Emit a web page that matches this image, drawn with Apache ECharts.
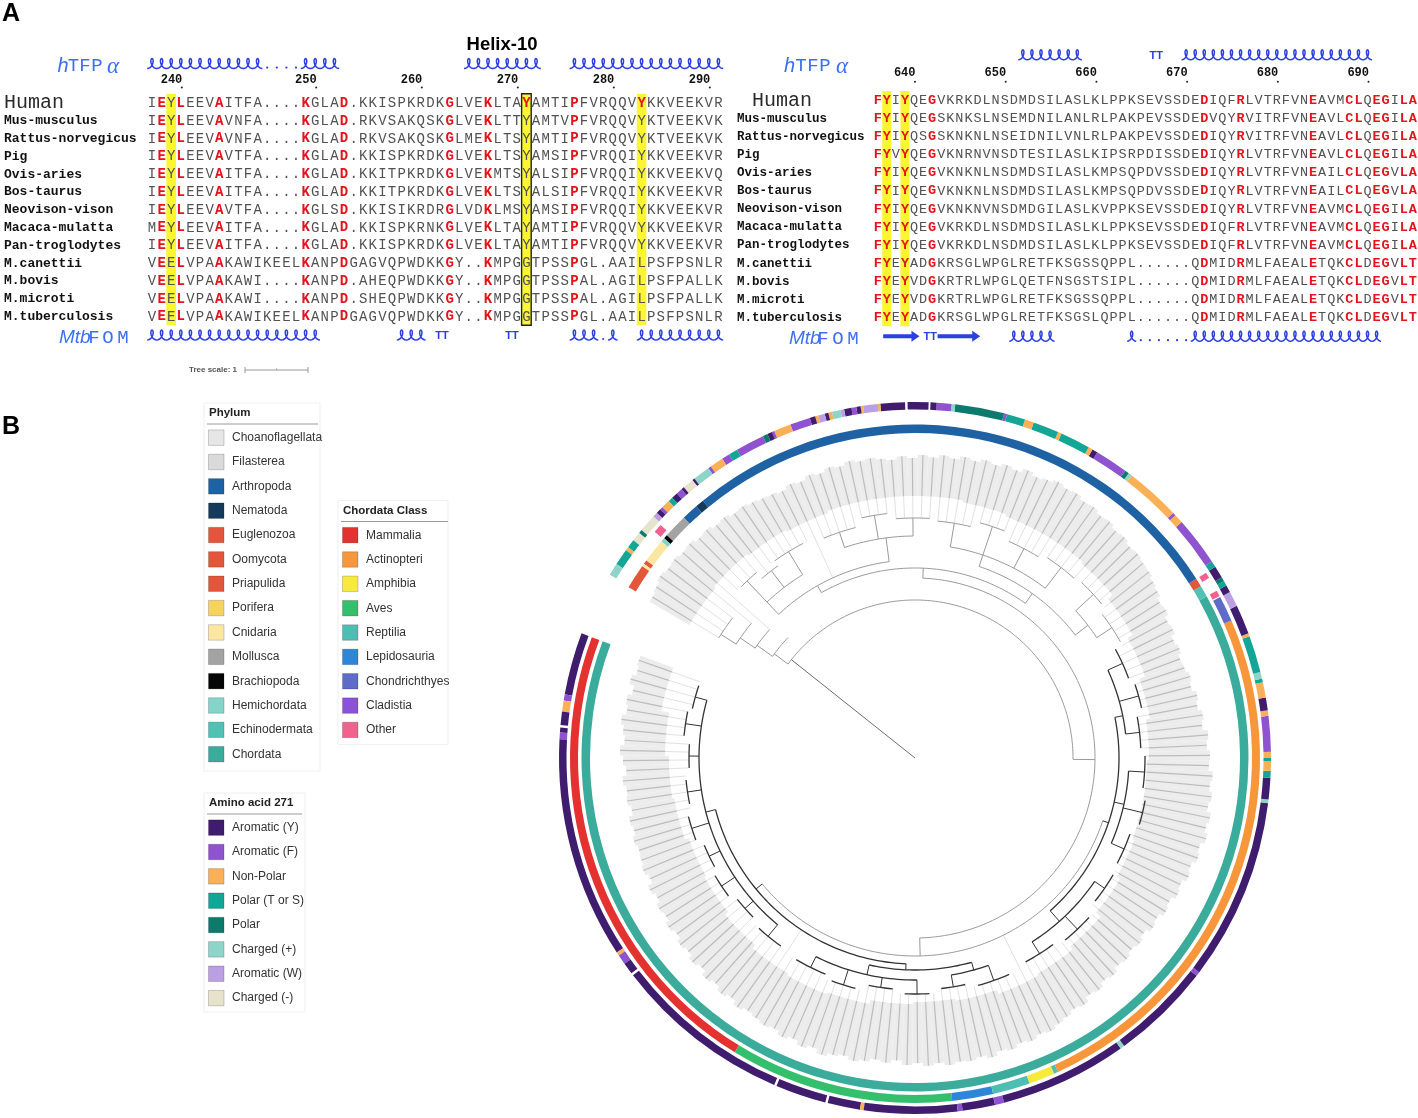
<!DOCTYPE html>
<html>

<head>
  <meta charset="utf-8" />
  <title></title>
  <script src="https://cdn.jsdelivr.net/npm/echarts@6/dist/echarts.min.js"></script>
  <style>
    html, body { margin: 0; padding: 0; background: #fff; }
    #main { width: 1418px; height: 1118px; }
  </style>
</head>

<body>
  <div id="main"></div>
  <script type="text/javascript">
    // ---------- panel A : alignment ----------
    var species = ['Human', 'Mus-musculus', 'Rattus-norvegicus', 'Pig', 'Ovis-aries', 'Bos-taurus',
      'Neovison-vison', 'Macaca-mulatta', 'Pan-troglodytes', 'M.canettii', 'M.bovis', 'M.microti', 'M.tuberculosis'];

    var seqLeft = [
      'IEYLEEVAITFA....KGLAD.KKISPKRDKGLVEKLTAYAMTIPFVRQQVYKKVEEKVR',
      'IEYLEEVAVNFA....KGLAD.RKVSAKQSKGLVEKLTTYAMTVPFVRQQVYKTVEEKVK',
      'IEYLEEVAVNFA....KGLAD.RKVSAKQSKGLMEKLTSYAMTIPFVRQQVYKTVEEKVK',
      'IEYLEEVAVTFA....KGLAD.KKISPKRDKGLVEKLTSYAMSIPFVRQQIYKKVEEKVR',
      'IEYLEEVAITFA....KGLAD.KKITPKRDKGLVEKMTSYALSIPFVRQQIYKKVEEKVQ',
      'IEYLEEVAITFA....KGLAD.KKITPKRDKGLVEKLTSYALSIPFVRQQIYKKVEEKVR',
      'IEYLEEVAVTFA....KGLSD.KKISIKRDRGLVDKLMSYAMSIPFVRQQIYKKVEEKVR',
      'MEYLEEVAITFA....KGLAD.KKISPKRNKGLVEKLTAYAMTIPFVRQQVYKKVEEKVR',
      'IEYLEEVAITFA....KGLAD.KKISPKRDKGLVEKLTAYAMTIPFVRQQVYKKVEEKVR',
      'VEELVPAAKAWIKEELKANPDGAGVQPWDKKGY..KMPGGTPSSPGL.AAILPSFPSNLR',
      'VEELVPAAKAWI....KANPD.AHEQPWDKKGY..KMPGGTPSSPAL.AGILPSFPALLK',
      'VEELVPAAKAWI....KANPD.SHEQPWDKKGY..KMPGGTPSSPAL.AGILPSFPALLK',
      'VEELVPAAKAWIKEELKANPDGAGVQPWDKKGY..KMPGGTPSSPGL.AAILPSFPSNLR'
    ];
    var seqRight = [
      'FYIYQEGVKRKDLNSDMDSILASLKLPPKSEVSSDEDIQFRLVTRFVNEAVMCLQEGILA',
      'FYIYQEGSKNKSLNSEMDNILANLRLPAKPEVSSDEDVQYRVITRFVNEAVLCLQEGILA',
      'FYIYQSGSKNKNLNSEIDNILVNLRLPAKPEVSSDEDIQYRVITRFVNEAVLCLQEGILA',
      'FYVYQEGVKNRNVNSDTESILASLKIPSRPDISSDEDIQYRLVTRFVNEAVLCLQEGILA',
      'FYIYQEGVKNKNLNSDMDSILASLKMPSQPDVSSDEDIQYRLVTRFVNEAILCLQEGVLA',
      'FYIYQEGVKNKNLNSDMDSILASLKMPSQPDVSSDEDIQYRLVTRFVNEAILCLQEGVLA',
      'FYIYQEGVKNKNVNSDMDGILASLKVPPKSEVSSDEDIQYRLVTRFVNEAVMCLQEGILA',
      'FYIYQEGVKRKDLNSDMDSILASLKLPPKSEVSSDEDIQFRLVTRFVNEAVMCLQEGILA',
      'FYIYQEGVKRKDLNSDMDSILASLKLPPKSEVSSDEDIQFRLVTRFVNEAVMCLQEGILA',
      'FYEYADGKRSGLWPGLRETFKSGSSQPPL......QDMIDRMLFAEALETQKCLDEGVLT',
      'FYEYVDGKRTRLWPGLQETFNSGSTSIPL......QDMIDRMLFAEALETQKCLDEGVLT',
      'FYEYVDGKRTRLWPGLRETFKSGSSQPPL......QDMIDRMLFAEALETQKCLDEGVLT',
      'FYEYADGKRSGLWPGLRETFKSGSLQPPL......QDMIDRMLFAEALETQKCLDEGVLT'
    ];

    var redColsLeft = [1, 3, 7, 16, 20, 31, 35, 44];
    var redHumanColsLeft = [39, 51];
    var yellowColsLeft = [2, 39, 51];
    var boxedColsLeft = [39];
    var tickColsLeft = [3, 17, 28, 38, 48, 58];
    var tickLabelsLeft = ['240', '250', '260', '270', '280', '290'];

    var redColsRight = [0, 1, 3, 6, 36, 40, 48, 52, 53, 55, 56, 58, 59];
    var redHumanColsRight = [];
    var yellowColsRight = [1, 3];
    var boxedColsRight = [];
    var tickColsRight = [4, 14, 24, 34, 44, 54];
    var tickLabelsRight = ['640', '650', '660', '670', '680', '690'];

    // secondary structure, in alignment columns
    var ssLeftTop = { helix: [[0, 11], [16, 19], [33, 40], [44, 59]], dots: [12, 13, 14, 15] };
    var ssLeftBottom = { helix: [[0, 17], [26, 28], [44, 46], [48, 48], [51, 59]], dots: [47], turns: [30.2, 37.5] };
    var ssRightTop = { helix: [[16, 22], [34, 54]], turns: [30.7] };
    var ssRightBottom = { helix: [[15, 19], [28, 28], [35, 55]], dots: [29, 30, 31, 32, 33, 34], turns: [5.8], strands: [[0.6, 4.6], [6.6, 11.3]] };

    // ---------- panel B : tree ----------
    var phylumNames = ['Choanoflagellata', 'Filasterea', 'Arthropoda', 'Nematoda', 'Euglenozoa', 'Oomycota', 'Priapulida',
      'Porifera', 'Cnidaria', 'Mollusca', 'Brachiopoda', 'Hemichordata', 'Echinodermata', 'Chordata'];
    var phylumColors = ['#e6e6e6', '#dadada', '#1f62a3', '#163a5c', '#e4563b', '#e4563b', '#e4563b',
      '#f6d35c', '#fbe6a2', '#a3a3a3', '#050505', '#84d4ca', '#4fc2b3', '#3bab9c'];
    var classNames = ['Mammalia', 'Actinopteri', 'Amphibia', 'Aves', 'Reptilia', 'Lepidosauria', 'Chondrichthyes', 'Cladistia', 'Other'];
    var classColors = ['#e3322f', '#f7963a', '#f8ea3c', '#33bf6b', '#4cbfb2', '#2e86d9', '#5e6bc9', '#8b52d9', '#f1628f'];
    var aaNames = ['Aromatic (Y)', 'Aromatic (F)', 'Non-Polar', 'Polar (T or S)', 'Polar', 'Charged (+)', 'Aromatic (W)', 'Charged (-)'];
    var aaColors = ['#3f1c6d', '#8f53cf', '#f9b057', '#13a596', '#0c7a6c', '#8fd4c9', '#baa0e2', '#e7e2cb'];

    // ring segments: [start angle, end angle, category index] (angle in degrees along the tree)
    var phylumRing = [[0, 229.5, 13], [229.5, 231.5, 12], [231.5, 233, 4], [233, 330, 2], [330, 331.5, 3], [331.5, 334.4, 2],
      [334.4, 338.6, 9], [338.6, 339.3, 10], [339.3, 340, 11], [340, 344.2, 8], [344.2, 344.9, 6], [344.9, 345.4, 8], [345.4, 349.7, 4]];
    var classRing = [[0, 79, 0], [79, 116.7, 3], [116.7, 123.6, 5], [123.6, 129.9, 4], [129.9, 134.3, 2], [134.3, 135, 4],
      [135, 224, 1], [224, 228.3, 6], [228.5, 229.5, 8], [232, 233, 8], [338, 339.5, 8]];
    var aaRing = [[0, 10.2, 0], [10.2, 11.2, 1], [11.2, 13, 2], [13, 15.2, 0], [15.6, 16.4, 0], [16.4, 17.5, 1], [17.5, 53.6, 0],
      [53.6, 54.2, 2], [54.2, 55.8, 1], [55.8, 57.7, 0], [58.1, 87.2, 0], [87.6, 95.9, 0], [96.3, 101.6, 0], [101.6, 102.2, 2],
      [102.2, 117.4, 0], [117.4, 118.2, 1], [118.2, 123.5, 0], [123.5, 125, 1], [125, 145.8, 0], [145.8, 146.5, 5],
      [146.5, 162.8, 0], [162.8, 163.5, 1], [163.5, 193.2, 0], [193.2, 193.8, 5], [193.8, 197.3, 0], [197.3, 198.4, 3],
      [198.4, 200, 2], [200, 200.5, 3], [200.5, 201.5, 2], [201.5, 207.3, 1], [207.3, 208.2, 2], [208.2, 210.3, 0],
      [210.3, 212.8, 2], [212.8, 213.4, 3], [213.4, 214.5, 5], [214.5, 220.5, 3], [220.5, 221, 2], [221, 225.8, 0],
      [225.8, 228.3, 6], [228.3, 229.5, 0], [229.5, 230.3, 3], [230.3, 231, 4], [231, 233, 0], [233, 234, 3], [234, 242, 1],
      [242, 243.5, 2], [243.5, 244, 1], [244, 253, 2], [253, 253.6, 5], [253.6, 254.3, 4], [254.3, 259.7, 1], [259.7, 260.6, 0],
      [260.6, 261.3, 2], [261.3, 266.2, 3], [266.2, 266.8, 2], [266.8, 271, 3], [271, 272.5, 2], [272.5, 275.5, 3],
      [275.5, 276, 1], [276, 284, 4], [284, 284.6, 5], [284.6, 287, 1], [287, 288, 0], [288.3, 291.7, 0], [292.1, 296.1, 0],
      [296.1, 296.5, 2], [296.5, 298.9, 6], [298.9, 299.3, 2], [299.3, 300, 0], [300, 300.8, 1], [300.8, 302, 0],
      [302, 302.6, 6], [302.6, 304, 5], [304, 304.6, 2], [304.6, 305.2, 0], [305.2, 306.3, 6], [306.3, 306.8, 2],
      [306.8, 307.7, 0], [307.7, 311, 1], [311, 313.8, 2], [313.8, 314.2, 1], [314.2, 315, 0], [315, 315.8, 4],
      [315.8, 320.5, 1], [320.5, 322, 3], [322, 323.3, 1], [323.3, 325.5, 2], [325.5, 326, 1], [326, 328.8, 5],
      [328.8, 329.2, 0], [329.2, 331, 7], [331, 331.5, 0], [331.5, 332.5, 1], [332.5, 333.5, 0], [333.5, 334.3, 3],
      [334.3, 335.7, 2], [335.7, 336.2, 1], [336.2, 337, 0], [337, 337.8, 6], [337.8, 340.7, 7], [340.7, 341.3, 4],
      [341.3, 342.8, 7], [342.8, 344.2, 3], [344.2, 344.8, 2], [344.8, 347.5, 3], [347.5, 349.5, 5]];

    // clades: [arc start, arc end, node radius, parent radius, stem angle]
    var clades = [
      [200, 344, 158, 0, 342],
      [337, 345, 175, 158, 344], [339, 346, 194, 175, 345], [341, 348, 212, 194, 346], [343, 349, 230, 212, 348],
      [112, 288, 180, 158, 200],
      [60, 182, 198, 180, 112],
      [35, 108, 206, 198, 60],
      [5, 71, 216, 206, 35],
      [98, 126, 212, 206, 108],
      [84, 111, 222, 212, 98],
      [120, 130, 220, 212, 126],
      [152, 212, 204, 198, 182],
      [143, 166, 218, 204, 152], [177, 197, 214, 204, 188], [207, 225, 212, 204, 212],
      [255, 320, 190, 180, 288],
      [238, 272, 202, 190, 255], [234, 243, 218, 202, 238], [253, 281, 214, 202, 272],
      [298, 334, 198, 190, 320], [291, 309, 222, 198, 298], [322, 334, 215, 198, 334],
      [2, 8, 228, 216, 5], [9, 15, 232, 216, 12], [17, 23, 226, 216, 20], [26, 32, 230, 216, 29], [35, 41, 234, 216, 38],
      [43, 49, 228, 216, 46], [51, 57, 232, 216, 54], [59, 65, 227, 216, 62], [68, 75, 231, 216, 71],
      [80, 88, 234, 222, 84], [90, 96, 238, 222, 93], [99, 105, 232, 222, 102], [108, 114, 236, 222, 111],
      [117, 123, 232, 220, 120], [126, 134, 236, 220, 130],
      [139, 147, 232, 218, 143], [150, 158, 236, 218, 154], [162, 170, 230, 218, 166],
      [173, 181, 228, 214, 177], [184, 190, 234, 214, 187], [193, 201, 230, 214, 197],
      [203, 211, 226, 212, 207], [213, 219, 232, 212, 216], [221, 229, 228, 212, 225],
      [230, 238, 236, 218, 234], [240, 247, 242, 218, 243],
      [249, 257, 240, 214, 253], [259, 267, 236, 214, 263], [269, 275, 244, 214, 272], [277, 285, 238, 214, 281],
      [287, 295, 240, 222, 291], [297, 303, 246, 222, 300], [305, 313, 238, 222, 309],
      [318, 326, 242, 215, 322], [326, 331, 236, 215, 328], [331, 336, 244, 215, 334]
    ];

    // leaf tips, one leaf every 2 degrees (radius)
    var leafTip = [
      293, 291, 295, 290, 294, 292, 296, 293, 291, 295,
      292, 289, 293, 290, 291, 288, 292, 290, 293, 291,
      292, 294, 291, 296, 293, 297, 295, 299, 296, 300,
      298, 302, 299, 304, 301, 305, 302, 306, 303, 305,
      307, 305, 309, 306, 310, 307, 311, 308, 306, 309,
      307, 304, 306, 303, 307, 305, 308, 306, 309, 307,
      308, 306, 309, 305, 307, 304, 306, 303, 305, 302,
      300, 297, 299, 294, 296, 292, 294, 290, 292, 289,
      291, 288, 292, 290, 294, 292, 296, 294, 298, 296,
      300, 298, 302, 299, 301, 297, 299, 296, 298, 294,
      295, 292, 294, 289, 291, 287, 289, 285, 287, 284,
      283, 286, 284, 288, 287, 291, 290, 294, 296, 299,
      300, 302, 301, 304, 303, 306, 305, 308, 307, 310,
      309, 311, 308, 306, 309, 305, 307, 304, 306, 303,
      305, 302, 304, 301, 303, 300, 302, 299, 301, 303,
      302, 304, 301, 303, 300, 302, 299, 301, 298, 300,
      301, 303, 305, 304, 307, 306, 309, 308, 311, 310,
      312, 311, 313, 310, 308
    ];
    // inner edge of the dense leaf band, per 10 degrees
    var leafInner = [258, 250, 246, 244, 240, 242, 246, 250, 252, 250, 246, 244, 246, 250, 248, 244, 238, 234,
      232, 232, 234, 238, 244, 250, 256, 258, 258, 260, 262, 262, 262, 260, 262, 264, 262];

    var chart = echarts.init(document.getElementById('main'));

    var MONO = '"Liberation Mono", "DejaVu Sans Mono", monospace';
    var SANS = '"Liberation Sans", Arial, sans-serif';
    var SS_BLUE = '#2c3fe0';
    var LBL_BLUE = '#3e6ff2';

    function cellData(seqs, redCols, redHuman) {
      var data = [], info = [];
      seqs.forEach(function (s, r) {
        for (var c = 0; c < s.length; c++) {
          var ch = s.charAt(c);
          data.push([c, r]);
          info.push({ ch: ch, red: ch !== '.' && (redCols.indexOf(c) >= 0 || (r === 0 && redHuman.indexOf(c) >= 0)) });
        }
      });
      return { data: data, info: info };
    }

    function letterSeries(idx, cells, size) {
      return {
        type: 'custom', xAxisIndex: idx, yAxisIndex: idx, silent: true, animation: false, z: 3,
        data: cells.data,
        renderItem: function (params, api) {
          var p = api.coord([api.value(0), api.value(1)]);
          var it = cells.info[params.dataIndex];
          return {
            type: 'text', x: p[0], y: p[1] + 0.5,
            style: { text: it.ch, fill: it.red ? '#e3141c' : '#525252', font: (it.red ? 'bold ' : '') + size + 'px ' + MONO, align: 'center', verticalAlign: 'middle' }
          };
        }
      };
    }

    function highlightSeries(idx, cols, boxed, nRows) {
      return {
        type: 'custom', xAxisIndex: idx, yAxisIndex: idx, silent: true, animation: false, z: 1,
        data: cols.map(function (c) { return [c, 0]; }),
        renderItem: function (params, api) {
          var c = api.value(0);
          var a = api.coord([c - 0.5, -0.5]), b = api.coord([c + 0.5, nRows - 0.5]);
          var isBox = boxed.indexOf(c) >= 0;
          return {
            type: 'rect', shape: { x: a[0], y: a[1], width: b[0] - a[0], height: b[1] - a[1] },
            style: { fill: '#fbf630', stroke: isBox ? '#222' : null, lineWidth: isBox ? 1.4 : 0 }
          };
        }
      };
    }

    function nameSeries(idx, x, humanX, size, humanSize) {
      return {
        type: 'custom', xAxisIndex: idx, yAxisIndex: idx, silent: true, animation: false, z: 3,
        data: species.map(function (n, r) { return [0, r]; }),
        renderItem: function (params, api) {
          var y = api.coord([0, api.value(1)])[1];
          var human = params.dataIndex === 0;
          return {
            type: 'text', x: human ? humanX : x, y: y + 0.5,
            style: { text: species[params.dataIndex], fill: human ? '#2a2a2a' : '#111', font: human ? ('normal ' + humanSize + 'px ' + MONO) : ('bold ' + size + 'px ' + MONO), align: 'left', verticalAlign: 'middle' }
          };
        }
      };
    }

    function tickSeries(idx, cols, labels, row, dotDy) {
      return {
        type: 'custom', xAxisIndex: idx, yAxisIndex: idx, silent: true, animation: false, z: 3,
        data: cols.map(function (c) { return [c, row]; }),
        renderItem: function (params, api) {
          var p = api.coord([api.value(0), api.value(1)]);
          return {
            type: 'group', children: [
              { type: 'text', x: p[0] + 1.5, y: p[1], style: { text: labels[params.dataIndex], font: 'bold 12px ' + MONO, fill: '#111', align: 'right', verticalAlign: 'middle' } },
              { type: 'circle', shape: { cx: p[0] + 1, cy: p[1] + dotDy, r: 1 }, style: { fill: '#222' } }
            ]
          };
        }
      };
    }

    function ssSeries(idx, track, row) {
      var items = [];
      (track.helix || []).forEach(function (h) { items.push([h[0], h[1], 0]); });
      (track.dots || []).forEach(function (d) { items.push([d, d, 1]); });
      (track.turns || []).forEach(function (t) { items.push([t, t, 2]); });
      (track.strands || []).forEach(function (s) { items.push([s[0], s[1], 3]); });
      return {
        type: 'custom', xAxisIndex: idx, yAxisIndex: idx, silent: true, animation: false, z: 3,
        data: items,
        renderItem: function (params, api) {
          var c0 = api.value(0), c1 = api.value(1), kind = api.value(2);
          if (kind === 0) {
            var a = api.coord([c0 - 0.5, row]), b = api.coord([c1 + 0.5, row]);
            var n = Math.round(c1 - c0 + 1), L = (b[0] - a[0]) / n, h = 10, yb = a[1] + 5;
            var pts = [];
            for (var t = 0; t <= Math.PI * 2 * n + 1e-6; t += Math.PI / 10) {
              pts.push([a[0] + L * t / (2 * Math.PI) + 0.33 * L * Math.sin(t), yb - h * (1 - Math.cos(t)) / 2]);
            }
            return { type: 'polyline', shape: { points: pts }, style: { stroke: SS_BLUE, lineWidth: 1.5, fill: null } };
          }
          var p = api.coord([c0, row]);
          if (kind === 1) {
            return { type: 'circle', shape: { cx: p[0], cy: p[1] + 4, r: 1.1 }, style: { fill: SS_BLUE } };
          }
          if (kind === 2) {
            return { type: 'text', x: p[0], y: p[1] + 1, style: { text: 'TT', font: 'bold 11px ' + SANS, fill: SS_BLUE, align: 'center', verticalAlign: 'middle' } };
          }
          var q = api.coord([c1, row]), y = p[1];
          return {
            type: 'polygon', shape: {
              points: [[p[0], y - 2], [q[0] - 8, y - 2], [q[0] - 8, y - 5.5], [q[0], y], [q[0] - 8, y + 5.5], [q[0] - 8, y + 2], [p[0], y + 2]]
            }, style: { fill: SS_BLUE }
          };
        }
      };
    }

    // ---- polar helpers ----
    function sectorEl(api, cs, v0, v1, r0, r1, fill) {
      var cx = cs.cx, cy = cs.cy;
      var pa = api.coord([r1, v0]), pb = api.coord([r1, v1]), pm = api.coord([r1, (v0 + v1) / 2]);
      var q = api.coord([r0, v0]);
      var a0 = Math.atan2(pa[1] - cy, pa[0] - cx), a1 = Math.atan2(pb[1] - cy, pb[0] - cx), am = Math.atan2(pm[1] - cy, pm[0] - cx);
      var d = am - a0;
      while (d < 0) d += Math.PI * 2;
      while (d >= Math.PI * 2) d -= Math.PI * 2;
      return {
        type: 'sector',
        shape: { cx: cx, cy: cy, r0: Math.hypot(q[0] - cx, q[1] - cy), r: Math.hypot(pa[0] - cx, pa[1] - cy), startAngle: a0, endAngle: a1, clockwise: d < Math.PI },
        style: { fill: fill }
      };
    }

    function ringSeries(segs, colors, r0, r1) {
      return {
        type: 'custom', coordinateSystem: 'polar', polarIndex: 0, silent: true, animation: false, z: 4,
        data: segs.map(function (s) { return [s[0], s[1]]; }),
        renderItem: function (params, api) {
          var s = segs[params.dataIndex];
          return sectorEl(api, params.coordSys, s[0], s[1], r0, r1, colors[s[2]]);
        }
      };
    }

    var leafAttach = leafTip.map(function (t, i) {
      var v = 1 + 2 * i, best = 0;
      clades.forEach(function (c) {
        if (v >= c[0] - 1.5 && v <= c[1] + 1.5 && c[2] > best) best = c[2];
      });
      return best;
    });

    var cellsLeft = cellData(seqLeft, redColsLeft, redHumanColsLeft);
    var cellsRight = cellData(seqRight, redColsRight, redHumanColsRight);

    function legendBlock(x, y, w, h, title, lineW, names, colors) {
      var els = [];
      els.push({ type: 'rect', shape: { x: x, y: y, width: w, height: h }, style: { fill: '#fff', stroke: '#efefef', lineWidth: 1 } });
      els.push({ type: 'text', x: x + 5, y: y + 10, style: { text: title, font: 'bold 11.5px ' + SANS, fill: '#222', verticalAlign: 'middle' } });
      els.push({ type: 'line', shape: { x1: x + 3, y1: y + 21, x2: x + 3 + lineW, y2: y + 21 }, style: { stroke: '#9a9a9a', lineWidth: 1 } });
      names.forEach(function (n, i) {
        var cy = y + 34.7 + i * 24.35;
        els.push({ type: 'rect', shape: { x: x + 4.5, y: cy - 7.8, width: 15.5, height: 15.5 }, style: { fill: colors[i], stroke: 'rgba(0,0,0,0.18)', lineWidth: 1 } });
        els.push({ type: 'text', x: x + 28, y: cy, style: { text: n, font: '12px ' + SANS, fill: '#333', verticalAlign: 'middle' } });
      });
      return els;
    }

    function txt(x, y, text, font, fill, align) {
      return { type: 'text', x: x, y: y, style: { text: text, font: font, fill: fill, align: align || 'center', verticalAlign: 'middle' } };
    }

    var graphics = [];
    graphics.push(txt(11, 14, 'A', 'bold 25px ' + SANS, '#000'));
    graphics.push(txt(11, 427, 'B', 'bold 25px ' + SANS, '#000'));
    graphics.push(txt(502, 45, 'Helix-10', 'bold 18.5px ' + SANS, '#000'));
    // hTFPα / MtbFOM labels
    [[63, 73.5, 85, 97, 113, 66], [789.5, 801, 813, 825, 842, 66]].forEach(function (p) {
      graphics.push(txt(p[0], p[5], 'h', 'italic 20px ' + SANS, LBL_BLUE));
      graphics.push(txt(p[1], p[5], 'T', '19px ' + MONO, LBL_BLUE));
      graphics.push(txt(p[2], p[5], 'F', '19px ' + MONO, LBL_BLUE));
      graphics.push(txt(p[3], p[5], 'P', '19px ' + MONO, LBL_BLUE));
      graphics.push(txt(p[4], p[5] + 1, 'α', 'italic 23px "Liberation Serif", serif', LBL_BLUE));
    });
    [[59, 94, 108, 123, 338], [789, 823, 838, 853, 339]].forEach(function (p) {
      graphics.push(txt(p[0], p[4], 'Mtb', 'italic 19px ' + SANS, LBL_BLUE, 'left'));
      graphics.push(txt(p[1], p[4], 'F', '19px ' + MONO, LBL_BLUE));
      graphics.push(txt(p[2], p[4], 'O', '19px ' + MONO, LBL_BLUE));
      graphics.push(txt(p[3], p[4], 'M', '19px ' + MONO, LBL_BLUE));
    });
    // tree scale
    graphics.push(txt(237, 370, 'Tree scale: 1', 'bold 8px ' + SANS, '#555', 'right'));
    graphics.push({ type: 'line', shape: { x1: 245, y1: 370, x2: 308, y2: 370 }, style: { stroke: '#999', lineWidth: 1 } });
    [245, 276.5, 308].forEach(function (x, i) {
      graphics.push({ type: 'line', shape: { x1: x, y1: 370 - (i === 1 ? 1.5 : 3), x2: x, y2: 370 + (i === 1 ? 0 : 3) }, style: { stroke: '#999', lineWidth: 1 } });
    });
    graphics = graphics.concat(legendBlock(204, 403, 116, 368, 'Phylum', 111, phylumNames, phylumColors));
    graphics = graphics.concat(legendBlock(338, 500.5, 110, 244, 'Chordata Class', 107, classNames, classColors));
    graphics = graphics.concat(legendBlock(204, 793, 101, 219, 'Amino acid 271', 95, aaNames, aaColors));

    var hiddenAxis = { show: false, axisLine: { show: false }, axisTick: { show: false }, axisLabel: { show: false }, splitLine: { show: false } };

    var option = {
      backgroundColor: '#ffffff',
      animation: false,
      grid: [
        { left: 147.2, top: 31.5, width: 576, height: 320.4 },
        { left: 873.2, top: 27.6, width: 544.2, height: 325.8 }
      ],
      xAxis: [
        Object.assign({ gridIndex: 0, type: 'value', min: -0.5, max: 59.5 }, hiddenAxis),
        Object.assign({ gridIndex: 1, type: 'value', min: -0.5, max: 59.5 }, hiddenAxis)
      ],
      yAxis: [
        Object.assign({ gridIndex: 0, type: 'value', min: -4, max: 14, inverse: true }, hiddenAxis),
        Object.assign({ gridIndex: 1, type: 'value', min: -4, max: 14, inverse: true }, hiddenAxis)
      ],
      polar: [{ center: [915, 758], radius: 360 }],
      angleAxis: [Object.assign({ polarIndex: 0, type: 'value', min: 0, max: 360, startAngle: 159.5, clockwise: false }, hiddenAxis)],
      radiusAxis: [Object.assign({ polarIndex: 0, type: 'value', min: 0, max: 360 }, hiddenAxis)],
      graphic: { elements: graphics },
      series: [
        highlightSeries(0, yellowColsLeft, boxedColsLeft, species.length),
        highlightSeries(1, yellowColsRight, boxedColsRight, species.length),
        letterSeries(0, cellsLeft, 14),
        letterSeries(1, cellsRight, 13.5),
        nameSeries(0, 4, 4, 13, 20),
        nameSeries(1, 737, 752, 12.5, 20),
        tickSeries(0, tickColsLeft, tickLabelsLeft, -1.3, 8),
        tickSeries(1, tickColsRight, tickLabelsRight, -1.5, 9),
        ssSeries(0, ssLeftTop, -2.2),
        ssSeries(0, ssLeftBottom, 13.05),
        ssSeries(1, ssRightTop, -2.5),
        ssSeries(1, ssRightBottom, 13.05),
        {
          // leaves
          type: 'custom', coordinateSystem: 'polar', polarIndex: 0, silent: true, animation: false, z: 1,
          data: leafTip.map(function (t, i) { return [i, t]; }),
          renderItem: function (params, api) {
            var i = params.dataIndex, v = 1 + 2 * i;
            var tip = api.value(1), inner = leafInner[Math.floor(v / 10)], att = leafAttach[i];
            var kids = [];
            if (att > 0 && att < inner) {
              var p0 = api.coord([att, v]), p1 = api.coord([inner, v]);
              kids.push({ type: 'line', shape: { x1: p0[0], y1: p0[1], x2: p1[0], y2: p1[1] }, style: { stroke: '#e2e2e2', lineWidth: 1 } });
            }
            kids.push(sectorEl(api, params.coordSys, v - 1, v + 1, inner, tip, '#ececec'));
            var q0 = api.coord([inner, v]), q1 = api.coord([tip, v]);
            kids.push({ type: 'line', shape: { x1: q0[0], y1: q0[1], x2: q1[0], y2: q1[1] }, style: { stroke: '#bcbcbc', lineWidth: 1.2 } });
            return { type: 'group', children: kids };
          }
        },
        {
          // tree branches
          type: 'custom', coordinateSystem: 'polar', polarIndex: 0, silent: true, animation: false, z: 2,
          data: clades,
          renderItem: function (params, api) {
            var c = clades[params.dataIndex];
            var v0 = c[0], v1 = c[1], r = c[2], rp = c[3], vs = c[4];
            var pts = [];
            for (var v = v0; v < v1; v += 1) pts.push(api.coord([r, v]));
            pts.push(api.coord([r, v1]));
            var dark = r >= 204 && v1 <= 232;
            var col = dark ? '#333333' : '#9a9a9a';
            var s0 = api.coord([rp, vs]), s1 = api.coord([r, vs]);
            return {
              type: 'group', children: [
                { type: 'polyline', shape: { points: pts }, style: { stroke: col, lineWidth: dark ? 1.3 : 1, fill: null } },
                { type: 'line', shape: { x1: s0[0], y1: s0[1], x2: s1[0], y2: s1[1] }, style: { stroke: rp === 0 ? '#6d6d6d' : col, lineWidth: 1 } }
              ]
            };
          }
        },
        ringSeries(phylumRing, phylumColors, 325, 333.5),
        ringSeries(classRing, classColors, 337, 345),
        ringSeries(aaRing, aaColors, 348.5, 356)
      ]
    };
    chart.setOption(option);

    window.onresize = function () {
      chart.resize();
    };
  </script>
</body>

</html>
